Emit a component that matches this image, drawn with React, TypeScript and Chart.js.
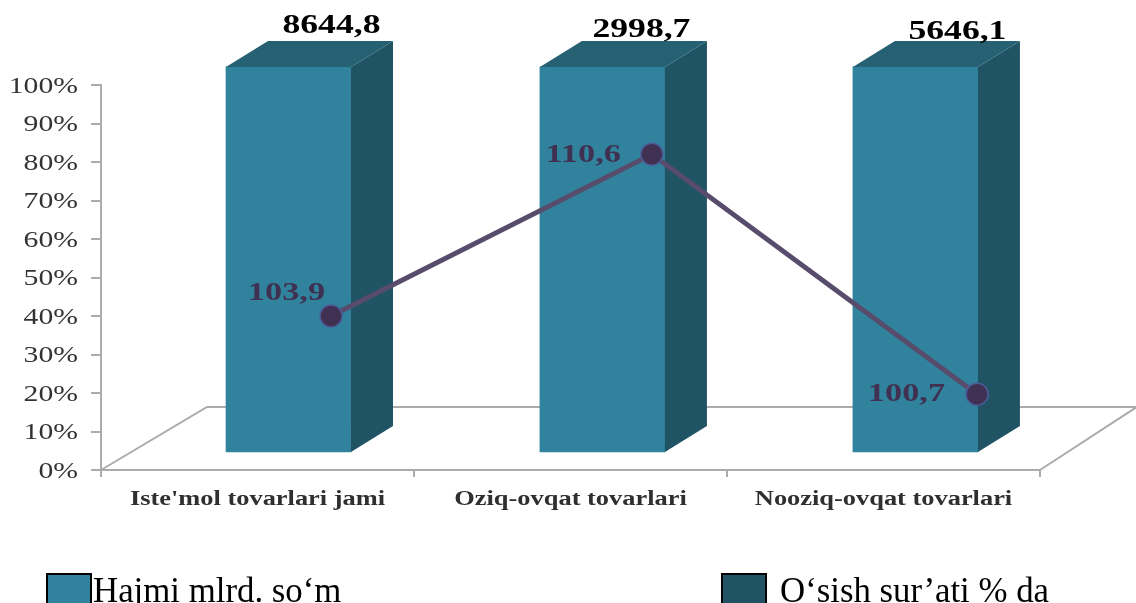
import React, { useEffect, useRef } from "react";
import Chart from "chart.js/auto";

const categories = ["Iste'mol tovarlari jami", "Oziq-ovqat tovarlari", "Nooziq-ovqat tovarlari"];
const barCenters = [0.599, 1.602, 2.602];
const barRange: [number, number] = [4.7, 104.7];
const volumeLabels = ["8644,8", "2998,7", "5646,1"];
const growthX = [0.735, 1.76, 2.799];
const growthY = [40, 82, 19.7];
const growthLabels = ["103,9", "110,6", "100,7"];
const seriesNames = ["Hajmi mlrd. so‘m", "O‘sish sur’ati % da"];

const FRONT = "#31829c";
const SIDE = "#205464";
const TOP = "#256173";
const PURPLE = "#403152";
const GRID = "#ababab";
const STRETCH = 1.32;
const DEPTH_X = 42;
const DEPTH_Y = 26;
const SERIF = "'Liberation Serif', serif";

const topLabelDX = [43, 39, 42];
const topLabelDY = [-41, -37, -35];
const growthLabelDX = [-6, -31, -32];
const growthLabelDY = [-23, 1, 0];

const faces3d = {
  id: "faces3d",
  beforeDraw(chart: any) {
    const ctx = chart.ctx;
    const orig = CanvasRenderingContext2D.prototype.fillText;
    ctx.fillText = function (t: string, x: number, y: number) {
      ctx.save();
      ctx.translate(x, y);
      ctx.scale(STRETCH, 1);
      orig.call(ctx, t, 0, 0);
      ctx.restore();
    };
  },
  beforeDatasetsDraw(chart: any) {
    const { ctx, chartArea: a } = chart;
    const fx = 106;
    const fy = 63;
    ctx.save();
    ctx.strokeStyle = GRID;
    ctx.lineWidth = 2;
    ctx.beginPath();
    ctx.moveTo(a.left, a.bottom);
    ctx.lineTo(a.left + fx, a.bottom - fy);
    ctx.lineTo(chart.width, a.bottom - fy);
    ctx.moveTo(a.right, a.bottom);
    ctx.lineTo(a.right + fx, a.bottom - fy - 6);
    ctx.stroke();
    ctx.restore();
  },
  afterDatasetDraw(chart: any, args: any) {
    if (args.index !== 0) return;
    const { ctx } = chart;
    const bars = chart.getDatasetMeta(0).data;
    ctx.save();
    bars.forEach((el: any, i: number) => {
      const l = el.x - el.width / 2;
      const r = el.x + el.width / 2;
      const t = el.y;
      const b = el.base;
      ctx.fillStyle = SIDE;
      ctx.beginPath();
      ctx.moveTo(r, t);
      ctx.lineTo(r + DEPTH_X, t - DEPTH_Y);
      ctx.lineTo(r + DEPTH_X, b - DEPTH_Y);
      ctx.lineTo(r, b);
      ctx.closePath();
      ctx.fill();
      ctx.fillStyle = TOP;
      ctx.beginPath();
      ctx.moveTo(l, t);
      ctx.lineTo(l + DEPTH_X, t - DEPTH_Y);
      ctx.lineTo(r + DEPTH_X, t - DEPTH_Y);
      ctx.lineTo(r, t);
      ctx.closePath();
      ctx.fill();
      ctx.fillStyle = "#000";
      ctx.font = `bold 27px ${SERIF}`;
      ctx.textAlign = "center";
      ctx.textBaseline = "middle";
      ctx.fillText(volumeLabels[i], el.x + topLabelDX[i], t + topLabelDY[i]);
    });
    ctx.restore();
  },
  afterDatasetsDraw(chart: any) {
    const { ctx } = chart;
    const pts = chart.getDatasetMeta(1).data;
    ctx.save();
    ctx.fillStyle = PURPLE;
    ctx.font = `bold 26px ${SERIF}`;
    ctx.textAlign = "right";
    ctx.textBaseline = "middle";
    pts.forEach((p: any, i: number) => {
      ctx.fillText(growthLabels[i], p.x + growthLabelDX[i], p.y + growthLabelDY[i]);
    });
    ctx.restore();
  },
  afterDraw(chart: any) {
    const { ctx } = chart;
    delete ctx.fillText;
    ctx.save();
    const boxes = [
      { x: 47, text: 93, fill: FRONT, name: seriesNames[0] },
      { x: 722, text: 780, fill: SIDE, name: seriesNames[1] },
    ];
    ctx.font = `34.8px ${SERIF}`;
    ctx.textBaseline = "alphabetic";
    ctx.textAlign = "left";
    boxes.forEach((b) => {
      ctx.fillStyle = b.fill;
      ctx.strokeStyle = "#000";
      ctx.lineWidth = 2;
      ctx.fillRect(b.x, 574, 44, 30);
      ctx.strokeRect(b.x, 574, 44, 30);
      ctx.fillStyle = "#000";
      ctx.fillText(b.name, b.text, 602);
    });
    ctx.restore();
  },
};

export default function App() {
  const ref = useRef<HTMLCanvasElement>(null);
  useEffect(() => {
    const chart = new Chart(ref.current!, {
      type: "bar",
      data: {
        labels: categories,
        datasets: [
          {
            type: "bar",
            label: seriesNames[0],
            xAxisID: "xv",
            yAxisID: "y",
            order: 2,
            clip: false,
            barThickness: 125,
            backgroundColor: FRONT,
            data: barCenters.map((x) => ({ x, y: barRange })),
          },
          {
            type: "line",
            label: seriesNames[1],
            xAxisID: "xv",
            yAxisID: "y",
            order: 1,
            clip: false,
            borderColor: "#584c6c",
            borderWidth: 5,
            pointRadius: 11,
            pointBackgroundColor: PURPLE,
            pointBorderColor: "#4c5a98",
            pointBorderWidth: 1.5,
            tension: 0,
            data: growthX.map((x, i) => ({ x, y: growthY[i] })),
          },
        ] as any,
      },
      options: {
        animation: false,
        responsive: false,
        events: [],
        layout: { padding: { top: 85, right: 96, left: 0, bottom: 0 } },
        plugins: { legend: { display: false }, tooltip: { enabled: false } },
        scales: {
          xv: { type: "linear", display: false, min: 0, max: 3, position: "bottom", offset: false },
          x: {
            type: "category",
            offset: true,
            position: "bottom",
            afterFit: (s: any) => {
              s.height = 133;
            },
            grid: { offset: true, drawOnChartArea: false, color: GRID, tickLength: 7, lineWidth: 2 },
            border: { color: GRID, width: 2 },
            ticks: {
              autoSkip: false,
              maxRotation: 0,
              padding: 11,
              color: "#2f2f2f",
              font: { family: SERIF, size: 20, weight: "bold" },
            },
          },
          y: {
            min: 0,
            max: 100,
            afterFit: (s: any) => {
              s.width = 101;
            },
            grid: { drawOnChartArea: false, color: GRID, tickLength: 10, lineWidth: 2 },
            border: { color: GRID, width: 2 },
            ticks: {
              stepSize: 10,
              padding: 13,
              labelOffset: 2,
              color: "#333",
              font: { family: SERIF, size: 22.5 },
              callback: (v: any) => `${v}%`,
            },
          },
        },
      } as any,
      plugins: [faces3d],
    });
    return () => chart.destroy();
  }, []);
  return (
    <div style={{ position: "fixed", left: 0, top: 0, width: 1136, height: 603, overflow: "hidden", background: "#fff" }}>
      <canvas ref={ref} width={1136} height={603} style={{ display: "block" }} />
    </div>
  );
}
